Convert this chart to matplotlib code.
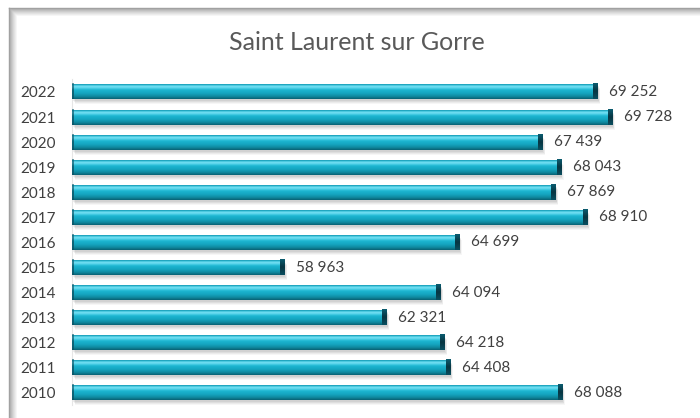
import numpy as np
import matplotlib
matplotlib.use("Agg")
import matplotlib.pyplot as plt
import matplotlib.transforms as mtransforms
from matplotlib.colors import LinearSegmentedColormap
from matplotlib.lines import Line2D

# ---------- Data ----------
years = ["2010", "2011", "2012", "2013", "2014", "2015", "2016",
         "2017", "2018", "2019", "2020", "2021", "2022"]
values = [68088, 64408, 64218, 62321, 64094, 58963, 64699,
          68910, 67869, 68043, 67439, 69728, 69252]

X_MIN, X_MAX = 52000, 72000
BAR_H = 0.6

plt.rcParams['font.family'] = ['Lato', 'DejaVu Sans']

fig = plt.figure(figsize=(7.0, 4.18), dpi=100)
ax = fig.add_axes([0.103, 0.030, 0.870, 0.780])

# ---------- Frame with inner shadow ----------
W, H = 700.0, 418.0
for i in range(9):
    g = 0.62 + 0.38 * (i / 8.0) ** 0.8
    x0 = (9 + i) / W
    y0 = 1 - (8 + i) / H
    fig.add_artist(Line2D([x0, x0], [y0, 0], transform=fig.transFigure,
                          color=(g, g, g), lw=1.0, zorder=0))
    fig.add_artist(Line2D([x0, 1], [y0, y0], transform=fig.transFigure,
                          color=(g, g, g), lw=1.0, zorder=0))

# ---------- Bars ----------
ypos = np.arange(len(years))

# soft shadow under each bar
for k, a in [(5, 0.05), (4, 0.07), (3, 0.09), (2, 0.10)]:
    off = mtransforms.ScaledTranslation(k * 0.6 / 100, -k / 100, fig.dpi_scale_trans)
    ax.barh(ypos, np.array(values) - X_MIN, left=X_MIN, height=BAR_H,
            color="#606060", alpha=a, transform=ax.transData + off, zorder=1,
            linewidth=0)

bars = ax.barh(ypos, np.array(values) - X_MIN, left=X_MIN, height=BAR_H,
               color="#17a9c4", linewidth=0, zorder=2)

cyl = LinearSegmentedColormap.from_list("cyl", [
    (0.00, "#085f71"),
    (0.15, "#0f879d"),
    (0.35, "#15a4bf"),
    (0.58, "#1cb6d1"),
    (0.72, "#5fd8ee"),
    (0.80, "#7ee4f5"),
    (0.90, "#1eb2cd"),
    (1.00, "#0a6e82"),
])
grad = np.linspace(0, 1, 64).reshape(-1, 1)

ax.set_xlim(X_MIN, X_MAX)
ax.set_ylim(-0.5, len(years) - 0.5)
fig.canvas.draw()

px_per_unit = ax.transData.transform((1, 0))[0] - ax.transData.transform((0, 0))[0]
cap_w = 4.0 / px_per_unit
edge_w = 1.5 / px_per_unit

cap = LinearSegmentedColormap.from_list("cap", ["#0a4f60", "#073441", "#0b5d70"])

for b, v in zip(bars, values):
    y0 = b.get_y()
    y1 = y0 + b.get_height()
    im = ax.imshow(grad, cmap=cyl, aspect="auto", origin="lower",
                   extent=(X_MIN, v, y0, y1), zorder=3, interpolation="bicubic")
    im.set_clip_path(b)
    ax.imshow(grad, cmap=cap, aspect="auto", origin="lower",
              extent=(v - cap_w, v, y0, y1), zorder=4, interpolation="bicubic")
    ax.imshow(grad, cmap=cap, aspect="auto", origin="lower", alpha=0.6,
              extent=(X_MIN, X_MIN + edge_w, y0, y1), zorder=4,
              interpolation="bicubic")
    ax.text(v + 12.0 / px_per_unit, y0 + b.get_height() / 2,
            f"{v:,}".replace(",", " "), va="center", ha="left",
            fontsize=11, color="#404040", zorder=5)

ax.set_xlim(X_MIN, X_MAX)
ax.set_ylim(-0.5, len(years) - 0.5)

# ---------- Axes styling ----------
ax.set_yticks(ypos)
ax.set_yticklabels(years, fontsize=11, color="#404040")
ax.tick_params(axis="y", length=0, pad=11.5)
ax.set_xticks([])
for s in ["top", "right", "bottom"]:
    ax.spines[s].set_visible(False)
ax.spines["left"].set_color("#e6e6e6")
ax.set_facecolor("none")

fig.text(0.51, 0.898, "Saint Laurent sur Gorre", ha="center", va="center",
         fontsize=18, color="#595959")

fig.savefig("out.png", dpi=100)
